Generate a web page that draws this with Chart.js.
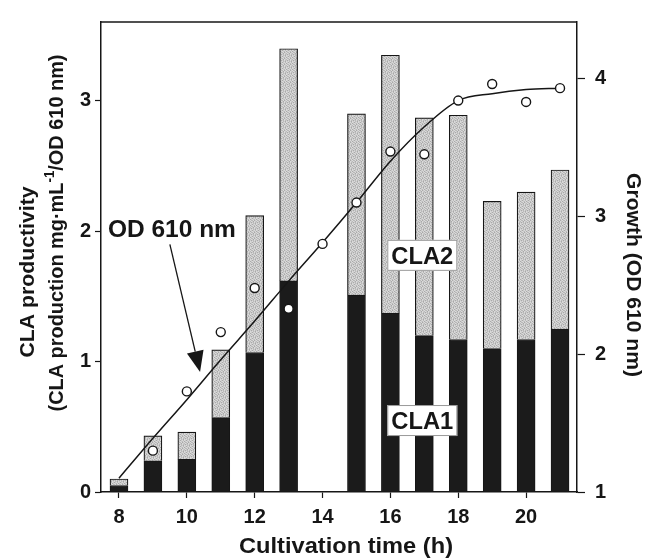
<!DOCTYPE html>
<html>
<head>
<meta charset="utf-8">
<script src="https://cdn.jsdelivr.net/npm/chart.js@4.4.1/dist/chart.umd.min.js"></script>
<style>
html, body { margin: 0; padding: 0; background: #fff; }
</style>
</head>
<body>
<canvas id="bar-chart-area" width="647" height="559"></canvas>
<script>
// cultivation time (h), no CLA sample at 14 h
var arrHours = [8, 9, 10, 11, 12, 13, 14, 15, 16, 17, 18, 19, 20, 21];
var arrCla1 = [0.05, 0.24, 0.25, 0.57, 1.07, 1.62, null, 1.51, 1.37, 1.20, 1.17, 1.10, 1.17, 1.25];
var arrCla2 = [0.05, 0.19, 0.21, 0.52, 1.05, 1.78, null, 1.39, 1.98, 1.67, 1.72, 1.13, 1.13, 1.22];

// growth, OD 610 nm (right axis)
var arrOdHours = [9, 10, 11, 12, 13, 14, 15, 16, 17, 18, 19, 20, 21];
var arrOd = [1.30, 1.73, 2.16, 2.48, 2.33, 2.80, 3.10, 3.47, 3.45, 3.84, 3.96, 3.83, 3.93];
var arrFit = [1.10, 1.39, 1.67, 1.96, 2.24, 2.53, 2.81, 3.10, 3.40, 3.65, 3.84, 3.89, 3.92, 3.93];

var arrTicksX = [8, 10, 12, 14, 16, 18, 20];
var arrTicksLeft = [0, 1, 2, 3];
var arrTicksRight = [1, 2, 3, 4];

var FONT = "'Liberation Sans', Arial, sans-serif";
var INK = '#161616';

function points(xs, ys) {
    var out = [];
    for (var i = 0; i < xs.length; i++) out.push({x: xs[i], y: ys[i]});
    return out;
}

// grey screen-tone fill for the CLA2 part of the bars
function stipple() {
    var c = document.createElement('canvas');
    c.width = 6; c.height = 6;
    var g = c.getContext('2d');
    var rows = ['cbdbca', 'dbcadc', 'acdbdc', 'dcbdac', 'bdacdb', 'cadcbd'];
    var tone = {a: '#a9a9a9', b: '#bababa', c: '#cbcbcb', d: '#dadada'};
    for (var r = 0; r < 6; r++) {
        for (var k = 0; k < 6; k++) {
            g.fillStyle = tone[rows[r][k]];
            g.fillRect(k, r, 1, 1);
        }
    }
    return g.createPattern(c, 'repeat');
}

// draws text stretched to a given width
function fitText(ctx, parts, x, y, width, angle) {
    ctx.save();
    ctx.translate(x, y);
    ctx.rotate(angle || 0);
    var total = 0;
    parts.forEach(function (p) {
        ctx.font = 'bold ' + p.size + 'px ' + FONT;
        p.w = ctx.measureText(p.t).width;
        total += p.w;
    });
    ctx.scale(width / total, 1);
    ctx.fillStyle = INK;
    ctx.textAlign = 'left';
    ctx.textBaseline = 'alphabetic';
    var cx = -total / 2;
    parts.forEach(function (p) {
        ctx.font = 'bold ' + p.size + 'px ' + FONT;
        ctx.fillText(p.t, cx, p.dy || 0);
        cx += p.w;
    });
    ctx.restore();
}

var labelsPlugin = {
    id: 'labels',
    afterDraw: function (chart) {
        var ctx = chart.ctx;
        var a = chart.chartArea;
        var sx = chart.scales.x, sy = chart.scales.y;

        // top frame line
        ctx.save();
        ctx.strokeStyle = INK;
        ctx.lineWidth = 1.5;
        ctx.beginPath();
        ctx.moveTo(a.left, a.top);
        ctx.lineTo(a.right, a.top);
        ctx.stroke();
        ctx.restore();

        // axis titles
        fitText(ctx, [{t: 'Cultivation time (h)', size: 22}], 346, 553, 214, 0);
        fitText(ctx, [{t: 'Growth (OD 610 nm)', size: 21}], 627, 275, 204, Math.PI / 2);
        fitText(ctx, [{t: 'CLA productivity', size: 21}], 34, 272, 171, -Math.PI / 2);
        fitText(ctx, [{t: '(CLA production mg\u00b7mL', size: 21},
                      {t: '-1', size: 14, dy: -9},
                      {t: '/OD 610 nm)', size: 21}], 63, 233, 357, -Math.PI / 2);

        // OD 610 nm label with arrow
        fitText(ctx, [{t: 'OD 610 nm', size: 23}], sx.getPixelForValue(9.56), sy.getPixelForValue(1.953), 128, 0);
        var x0 = sx.getPixelForValue(9.50), y0 = sy.getPixelForValue(1.90);
        var x1 = sx.getPixelForValue(10.39), y1 = sy.getPixelForValue(0.92);
        var len = Math.sqrt((x1 - x0) * (x1 - x0) + (y1 - y0) * (y1 - y0));
        var ux = (x1 - x0) / len, uy = (y1 - y0) / len;
        var bx = x1 - ux * 21, by = y1 - uy * 21;
        ctx.save();
        ctx.strokeStyle = INK;
        ctx.fillStyle = INK;
        ctx.lineWidth = 1.3;
        ctx.beginPath();
        ctx.moveTo(x0, y0);
        ctx.lineTo(bx, by);
        ctx.stroke();
        ctx.beginPath();
        ctx.moveTo(x1, y1);
        ctx.lineTo(bx - uy * 8.5, by + ux * 8.5);
        ctx.lineTo(bx + uy * 8.5, by - ux * 8.5);
        ctx.closePath();
        ctx.fill();
        ctx.restore();

        // CLA2 / CLA1 boxed labels
        [['CLA2', 1.75], ['CLA1', 0.483]].forEach(function (l) {
            var cx = sx.getPixelForValue(16.94);
            var base = sy.getPixelForValue(l[1]);
            ctx.save();
            ctx.fillStyle = '#fff';
            ctx.strokeStyle = '#9a9a9a';
            ctx.lineWidth = 1;
            ctx.fillRect(cx - 35, base - 24, 70, 31);
            ctx.strokeRect(cx - 35 + 0.5, base - 24 + 0.5, 69, 30);
            ctx.restore();
            fitText(ctx, [{t: l[0], size: 24}], cx, base, 62, 0);
        });
    }
};

var tickFont = {family: FONT, size: 20, weight: 'bold'};

var configBar = {
    type: 'bar',
    data: {
        datasets: [{
            type: 'line',
            label: 'OD 610 nm',
            data: points(arrOdHours, arrOd),
            yAxisID: 'y2',
            showLine: false,
            pointRadius: 4.5,
            pointBackgroundColor: '#fff',
            pointBorderColor: INK,
            pointBorderWidth: 1.4,
            order: 0
        }, {
            type: 'line',
            label: 'fit',
            data: points(arrHours, arrFit),
            yAxisID: 'y2',
            borderColor: INK,
            borderWidth: 1.5,
            pointRadius: 0,
            cubicInterpolationMode: 'monotone',
            fill: false,
            order: 1
        }, {
            label: 'CLA1',
            data: points(arrHours, arrCla1),
            yAxisID: 'y',
            backgroundColor: '#1b1b1b',
            borderColor: INK,
            borderWidth: 1,
            barThickness: 18,
            stack: 'cla',
            order: 2
        }, {
            label: 'CLA2',
            data: points(arrHours, arrCla2),
            yAxisID: 'y',
            backgroundColor: stipple(),
            borderColor: INK,
            borderWidth: 1.2,
            barThickness: 18,
            stack: 'cla',
            order: 2
        }]
    },
    options: {
        responsive: false,
        animation: false,
        layout: {padding: {top: 14, left: 0, right: 0, bottom: 0}},
        plugins: {legend: {display: false}, tooltip: {enabled: false}},
        scales: {
            x: {
                type: 'linear',
                offset: false,
                min: 7.47,
                max: 21.5,
                afterBuildTicks: function (s) { s.ticks = arrTicksX.map(function (v) { return {value: v}; }); },
                afterFit: function (s) { s.height = 67; },
                grid: {offset: false, drawOnChartArea: false, tickLength: 6, tickColor: INK, tickWidth: 1.2},
                border: {color: INK, width: 1.5},
                ticks: {color: INK, font: tickFont, padding: 7, maxRotation: 0, autoSkip: false}
            },
            y: {
                position: 'left',
                stacked: true,
                min: 0,
                max: 3.605,
                afterBuildTicks: function (s) { s.ticks = arrTicksLeft.map(function (v) { return {value: v}; }); },
                afterFit: function (s) { s.width = 101; },
                grid: {drawOnChartArea: false, tickLength: 6, tickColor: INK, tickWidth: 1.2},
                border: {color: INK, width: 1.5},
                ticks: {color: INK, font: tickFont, padding: 4}
            },
            y2: {
                position: 'right',
                min: 1,
                max: 4.41,
                afterBuildTicks: function (s) { s.ticks = arrTicksRight.map(function (v) { return {value: v}; }); },
                afterFit: function (s) { s.width = 70; },
                grid: {drawOnChartArea: false, tickLength: 8, tickColor: INK, tickWidth: 1.2},
                border: {color: INK, width: 1.5},
                ticks: {color: INK, font: tickFont, padding: 10}
            }
        }
    },
    plugins: [labelsPlugin]
};

var myChartBar = document.getElementById('bar-chart-area').getContext('2d');
var myBar = new Chart(myChartBar, configBar);
</script>
</body>
</html>
